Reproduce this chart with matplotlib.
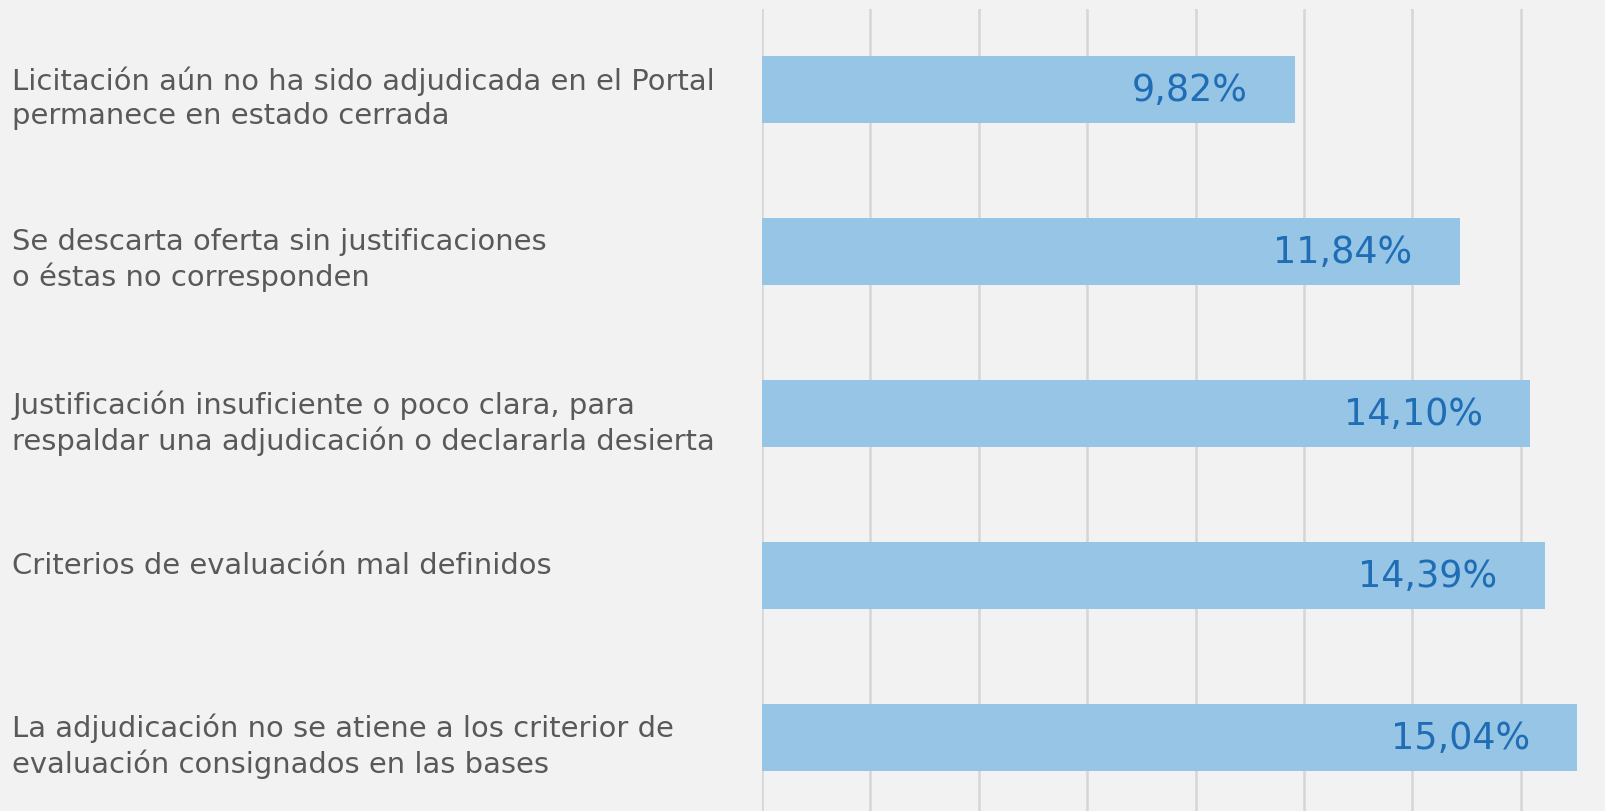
import matplotlib.pyplot as plt
import matplotlib.transforms as mtransforms

categories = [
    'Licitación aún no ha sido adjudicada en el Portal\npermanece en estado cerrada',
    'Se descarta oferta sin justificaciones\no éstas no corresponden',
    'Justificación insuficiente o poco clara, para\nrespaldar una adjudicación o declararla desierta',
    'Criterios de evaluación mal definidos',
    'La adjudicación no se atiene a los criterior de\nevaluación consignados en las bases',
]
# bar lengths as drawn in the picture (the 11,84% bar is drawn longer than its label)
values = [9.83, 12.87, 14.17, 14.44, 15.04]
value_labels = ['9,82%', '11,84%', '14,10%', '14,39%', '15,04%']

bg = '#F2F2F2'
fig = plt.figure(figsize=(16.06, 8.12), dpi=100, facecolor=bg)
ax = fig.add_axes([0.4745, -0.0086, 0.5255, 0.9963], facecolor=bg)

ypos = list(range(len(categories)))
ax.barh(ypos, values, height=0.415, color='#96C5E6', zorder=2)
ax.set_ylim(len(categories) - 0.5, -0.5)
ax.set_xlim(0, 15.57)
ax.set_xticks(range(0, 16, 2))
ax.grid(axis='x', color='#D6D6D6', linewidth=1.8, zorder=0)
ax.tick_params(left=False, bottom=False, labelleft=False, labelbottom=False)
for s in ax.spines.values():
    s.set_visible(False)

# category labels, top-aligned a bit above bar centre
trans = mtransforms.blended_transform_factory(fig.transFigure, ax.transData)
for y, lab in zip(ypos, categories):
    ax.text(0.0075, y - 0.15, lab, transform=trans, ha='left', va='top',
            fontsize=20.9, color='#595959', linespacing=1.28)

for y, v, lab in zip(ypos, values, value_labels):
    ax.annotate(lab, (v, y), xytext=(-34, 0), textcoords='offset points',
                ha='right', va='center', fontsize=26.3, color='#1F6DB5', zorder=3)

fig.savefig('out.png', dpi=100, facecolor=bg)
